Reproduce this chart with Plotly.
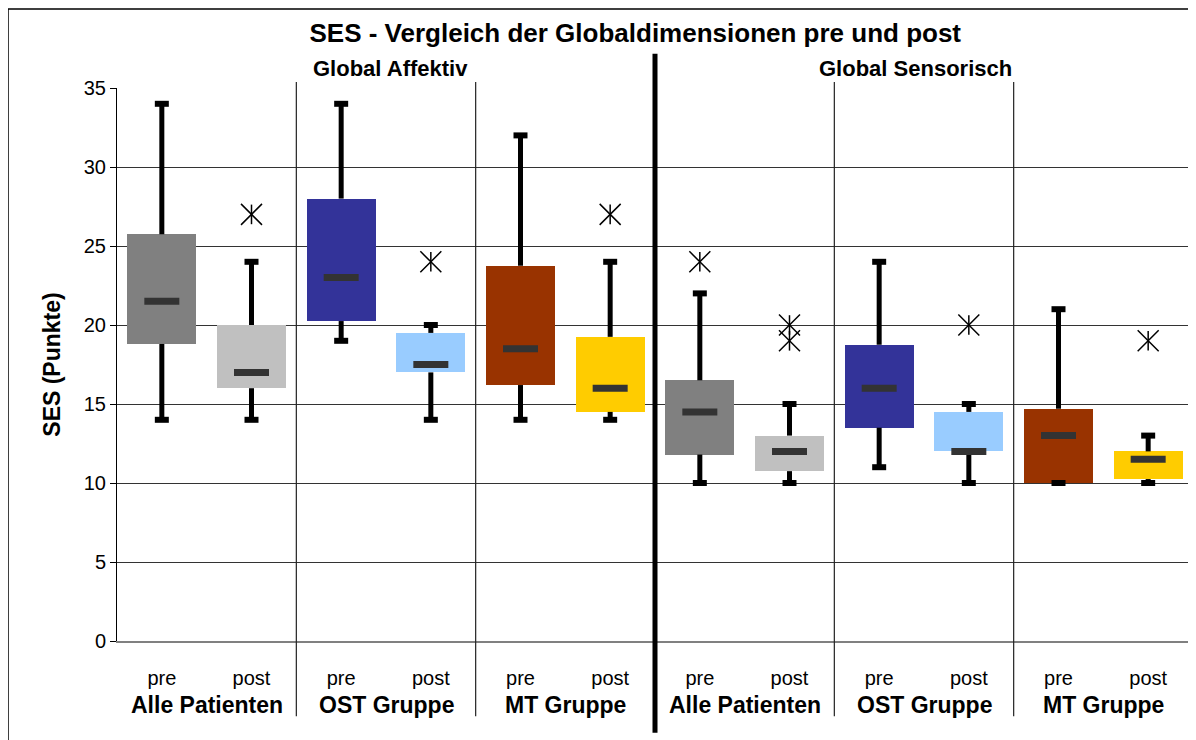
import plotly.graph_objects as go

# one entry per box, left to right
phases = ["pre", "post"] * 6
groups = ["Alle Patienten", "OST Gruppe", "MT Gruppe"] * 2
sections = ["Global Affektiv", "Global Sensorisch"]

box_colors = ["#808080", "#C0C0C0", "#333399", "#99CCFF", "#993300", "#FFCC00"] * 2

lower_whisker = [14, 14, 19, 14, 14, 14, 10, 10, 11, 10, 10, 10]
q1 = [18.8, 16, 20.25, 17, 16.2, 14.5, 11.8, 10.75, 13.5, 12, 10, 10.25]
median = [21.5, 17, 23, 17.5, 18.5, 16, 14.5, 12, 16, 12, 13, 11.5]
q3 = [25.75, 20, 28, 19.5, 23.75, 19.25, 16.5, 13, 18.75, 14.5, 14.7, 12]
upper_whisker = [34, 24, 34, 20, 32, 24, 22, 15, 24, 15, 21, 13]

outlier_pos = [1, 3, 5, 6, 7, 7, 9, 11]
outlier_val = [27, 24, 27, 24, 20, 19, 20, 19]

y_ticks = [0, 5, 10, 15, 20, 25, 30, 35]

positions = list(range(len(phases)))

# whisker segments: low -> q1 and q3 -> high
wx, wy = [], []
for i in positions:
    wx += [i, i, None, i, i, None]
    wy += [lower_whisker[i], q1[i], None, q3[i], upper_whisker[i], None]

fig = go.Figure()

fig.add_trace(go.Bar(
    x=positions,
    y=[hi - lo for hi, lo in zip(q3, q1)],
    base=q1,
    width=0.77,
    marker=dict(color=box_colors, line=dict(width=0)),
    hoverinfo="skip",
))

fig.add_trace(go.Scatter(
    x=wx, y=wy, mode="lines",
    line=dict(color="black", width=5),
    hoverinfo="skip",
))

fig.add_trace(go.Scatter(
    x=positions + positions,
    y=lower_whisker + upper_whisker,
    mode="markers",
    marker=dict(symbol="line-ew-open", size=10, color="black", line=dict(width=6)),
    hoverinfo="skip",
))

fig.add_trace(go.Scatter(
    x=positions, y=median, mode="markers",
    marker=dict(symbol="line-ew-open", size=25, color="#333333", line=dict(width=7)),
))

# outliers drawn as x plus vertical stroke
fig.add_trace(go.Scatter(
    x=outlier_pos, y=outlier_val, mode="markers",
    marker=dict(symbol="x-thin-open", size=21, color="black", line=dict(width=1.5)),
))
fig.add_trace(go.Scatter(
    x=outlier_pos, y=outlier_val, mode="markers",
    marker=dict(symbol="line-ns-open", size=14, color="black", line=dict(width=1.5)),
))

# group separators
for xpos in [1.5, 3.5, 7.5, 9.5]:
    fig.add_shape(type="line", xref="x", yref="paper", x0=xpos, x1=xpos,
                  y0=-0.136, y1=1.011, line=dict(color="#222222", width=1.2))
fig.add_shape(type="line", xref="x", yref="paper", x0=5.5, x1=5.5,
              y0=-0.166, y1=1.062, line=dict(color="black", width=5))

# outer frame
fig.add_shape(type="rect", xref="paper", yref="paper",
              x0=-0.1013, x1=1.02, y0=-0.2, y1=1.143,
              line=dict(color="black", width=1.5), fillcolor="rgba(0,0,0,0)")

for k, name in enumerate(groups):
    fig.add_annotation(x=2 * k + 0.5, y=-0.1157, xref="x", yref="paper",
                       yanchor="middle", text=f"<b>{name}</b>", showarrow=False,
                       font=dict(size=23, color="black"))

fig.add_annotation(x=2.55, y=1.036, xref="x", yref="paper", yanchor="middle",
                   text=f"<b>{sections[0]}</b>", showarrow=False,
                   font=dict(size=22, color="black"))
fig.add_annotation(x=8.4, y=1.036, xref="x", yref="paper", yanchor="middle",
                   text=f"<b>{sections[1]}</b>", showarrow=False,
                   font=dict(size=22, color="black"))

# the page body adds an 8px offset, so the figure is slightly smaller
fig.update_layout(
    width=1188,
    height=732,
    margin=dict(l=109, r=3, t=80, b=99),
    paper_bgcolor="white",
    plot_bgcolor="white",
    showlegend=False,
    font=dict(family="Liberation Sans, Arial, sans-serif", color="black", size=20),
    title=dict(
        text="<b>SES - Vergleich der Globaldimensionen pre und post</b>",
        x=0.528, xanchor="center", y=0.966, yanchor="middle",
        font=dict(size=26, color="black"),
    ),
    bargap=0,
)

fig.update_xaxes(
    range=[-0.5, len(phases) - 0.5],
    tickmode="array", tickvals=positions, ticktext=phases,
    showgrid=False, zeroline=False,
    showline=True, linecolor="#808080", linewidth=1.5,
    ticks="", tickfont=dict(size=20), ticklabelstandoff=18,
)

fig.update_yaxes(
    range=[0, 35],
    tickmode="array", tickvals=y_ticks,
    showgrid=True, gridcolor="#333333", gridwidth=1,
    zeroline=False,
    showline=True, linecolor="black", linewidth=1,
    ticks="outside", ticklen=6, tickcolor="black",
    tickfont=dict(size=20),
    title=dict(text="<b>SES (Punkte)</b>", font=dict(size=23), standoff=16),
)

fig.write_html("out.html")
